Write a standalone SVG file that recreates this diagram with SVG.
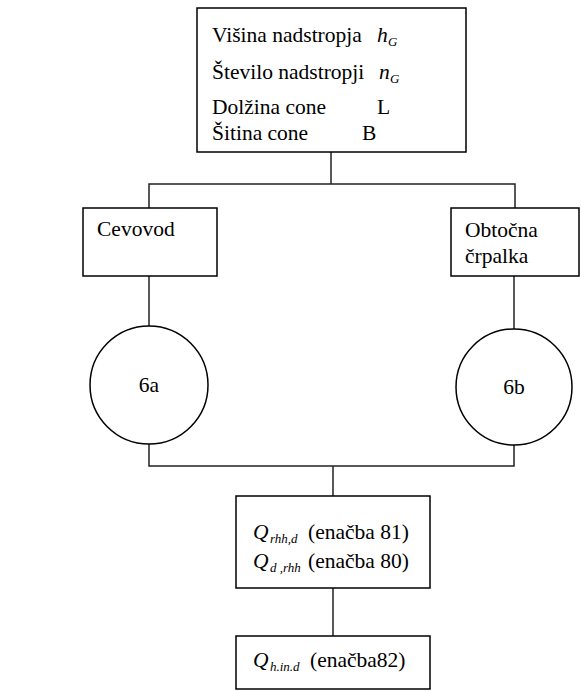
<svg xmlns="http://www.w3.org/2000/svg" width="581" height="691" viewBox="0 0 581 691" font-family="'Liberation Serif', Tinos, 'Times New Roman', 'DejaVu Serif', serif">
  <style>
    .box { fill: #ffffff; stroke: #000000; stroke-width: 1.5; }
    .conn { fill: none; stroke: #222222; stroke-width: 1.5; }
    .t { font-family: 'Liberation Serif', Tinos, 'Times New Roman', 'DejaVu Serif', serif; font-size: 21.5px; fill: #000000; }
    .it { font-style: italic; }
    .sub { font-style: italic; font-size: 13px; }
  </style>
  <rect width="581" height="691" fill="#ffffff"/>

  <g id="connectors">
    <polyline class="conn" points="331,152 331,184"/>
    <polyline class="conn" points="149,208 149,184 515,184 515,208"/>
    <line class="conn" x1="149" y1="276" x2="149" y2="326"/>
    <line class="conn" x1="514" y1="276" x2="514" y2="329"/>
    <polyline class="conn" points="149,444 149,466 514,466 514,445"/>
    <line class="conn" x1="333" y1="466" x2="333" y2="496"/>
    <line class="conn" x1="333" y1="588" x2="333" y2="636"/>
  </g>

  <g id="node-input">
    <rect class="box" x="197" y="8" width="269" height="144"/>
    <text class="t" x="212" y="42">Višina nadstropja</text>
    <text class="t it" x="377" y="42">h</text>
    <text class="t sub" x="388" y="46">G</text>
    <text class="t" x="212" y="79">Število nadstropji</text>
    <text class="t it" x="379" y="79">n</text>
    <text class="t sub" x="390" y="83">G</text>
    <text class="t" x="212" y="114">Dolžina cone</text>
    <text class="t" x="377" y="114">L</text>
    <text class="t" x="212" y="140">Šitina cone</text>
    <text class="t" x="362" y="140">B</text>
  </g>

  <g id="node-cevovod">
    <rect class="box" x="83" y="208" width="134" height="68"/>
    <text class="t" x="97" y="236">Cevovod</text>
  </g>

  <g id="node-crpalka">
    <rect class="box" x="451" y="208" width="128" height="68"/>
    <text class="t" x="465" y="237">Obtočna</text>
    <text class="t" x="465" y="263">črpalka</text>
  </g>

  <g id="node-6a">
    <circle class="box" cx="149" cy="385" r="59"/>
    <text class="t" x="149" y="392" text-anchor="middle">6a</text>
  </g>

  <g id="node-6b">
    <circle class="box" cx="514" cy="387" r="58"/>
    <text class="t" x="514" y="394" text-anchor="middle">6b</text>
  </g>

  <g id="node-q-rhh">
    <rect class="box" x="236" y="496" width="194" height="92"/>
    <text class="t it" x="253" y="539">Q</text>
    <text class="t sub" x="270" y="543">rhh,d</text>
    <text class="t" x="308" y="539">(enačba 81)</text>
    <text class="t it" x="253" y="568">Q</text>
    <text class="t sub" x="270" y="572">d ,rhh</text>
    <text class="t" x="308" y="568">(enačba 80)</text>
  </g>

  <g id="node-q-hin">
    <rect class="box" x="236" y="636" width="194" height="53"/>
    <text class="t it" x="253" y="667">Q</text>
    <text class="t sub" x="270" y="671">h.in.d</text>
    <text class="t" x="310" y="667">(enačba82)</text>
  </g>
</svg>
